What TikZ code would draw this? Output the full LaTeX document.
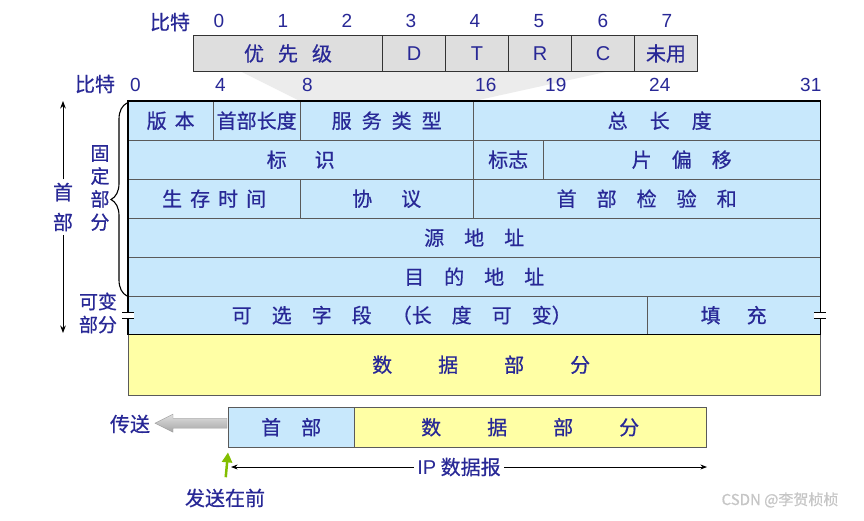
\documentclass[tikz,border=0pt]{standalone}
\usepackage{fontspec}
\setmainfont{Noto Sans CJK SC}[FakeBold=0.6]
\newfontfamily\latinfont{Liberation Sans}
\usetikzlibrary{arrows.meta, positioning, calc, decorations.pathreplacing}

\definecolor{txtblue}{RGB}{40,40,150}
\definecolor{hdrblue}{RGB}{200,232,252}
\definecolor{datayellow}{RGB}{255,255,165}
\definecolor{tosgray}{RGB}{222,222,222}
\definecolor{linegray}{RGB}{90,90,90}
\definecolor{sendgreen}{RGB}{130,190,0}
\newcommand{\fsep}[1]{\hspace{#1em}}

\begin{document}
\begin{tikzpicture}[x=1pt, y=-1pt, >=Stealth,
        every node/.style={text=txtblue, font=\fontsize{20}{23}\selectfont},
        cell/.style={draw=linegray, fill=hdrblue, inner sep=0pt, anchor=north west, minimum height=39pt},
        tosbit/.style={draw=black!80, line width=1pt, fill=tosgray, inner sep=0pt, anchor=north west, minimum height=36pt, minimum width=63pt},
        bitnum/.style={font=\latinfont\fontsize{19}{20}\selectfont, inner sep=0pt},
        stack/.style={align=center, font=\fontsize{19}{23}\selectfont}
    ]
        \fill[white] (0,0) rectangle (864,520);
        \useasboundingbox (0,0) rectangle (864,520);

        % Schatten unter dem TOS-Byte
        \fill[gray!15] (240,71) -- (610,71) -- (474,101) -- (300,101) -- cycle;

        % TOS-Byte
        \node (tbit) at (170,22) {比特};
        \foreach \b in {0,...,7}
            \node[bitnum] (tb\b) at ({219+64*\b},21) {\b};
        \node[tosbit, minimum width=189pt] (prec) at (193,35) {优\fsep{.7}先\fsep{.7}级};
        \node[tosbit, font=\latinfont\fontsize{20}{23}\selectfont] (dbit) at (382,35) {D};
        \node[tosbit, font=\latinfont\fontsize{20}{23}\selectfont] (tbit4) at (445,35) {T};
        \node[tosbit, font=\latinfont\fontsize{20}{23}\selectfont] (rbit) at (508,35) {R};
        \node[tosbit, font=\latinfont\fontsize{20}{23}\selectfont] (cbit) at (571,35) {C};
        \node[tosbit] (unused) at (634,35) {未用};

        % Bitpositionen
        \node (bbit) at (95,84) {比特};
        \foreach \b/\x in {0/128,4/213,8/300,16/473,19/543,24/647,31/798}
            \node[bitnum, anchor=west] (bb\b) at ({\x+2},85) {\b};

        % Kopf
        \node[cell, minimum width=85pt] (ver) at (128,101) {版\fsep{.4}本};
        \node[cell, minimum width=87pt] (ihl) at (213,101) {首部长度};
        \node[cell, minimum width=173pt] (tos) at (300,101) {服\fsep{.5}务\fsep{.5}类\fsep{.5}型};
        \node[cell, minimum width=347pt] (len) at (473,101) {\hspace*{26pt}总\fsep{1.1}长\fsep{1.1}度};

        \node[cell, minimum width=345pt] (ident) at (128,140) {标\fsep{1.4}识};
        \node[cell, minimum width=70pt] (flag) at (473,140) {标志};
        \node[cell, minimum width=277pt] (frag) at (543,140) {片\fsep{1}偏\fsep{1}移};

        \node[cell, minimum width=172pt] (ttl) at (128,179) {生\fsep{.4}存\fsep{.4}时\fsep{.4}间};
        \node[cell, minimum width=173pt] (proto) at (300,179) {协\fsep{1.45}议};
        \node[cell, minimum width=347pt] (csum) at (473,179) {首\fsep{1}部\fsep{1}检\fsep{1}验\fsep{1}和};

        \node[cell, minimum width=692pt] (src) at (128,218) {源\fsep{1}地\fsep{1}址};
        \node[cell, minimum width=692pt] (dst) at (128,257) {目\fsep{1}的\fsep{1}地\fsep{1}址};

        \node[cell, minimum width=519pt, minimum height=38pt] (opt) at (128,296)
            {\hspace*{28pt}可\fsep{1}选\fsep{1}字\fsep{1}段\fsep{1}（长\fsep{1}度\fsep{1}可\fsep{1}变）};
        \node[cell, minimum width=173pt, minimum height=38pt] (pad) at (647,296) {填\fsep{1.3}充};

        \node[cell, fill=datayellow, minimum width=692pt, minimum height=61pt] (data) at (128,334)
            {\hspace*{14pt}数\fsep{2.3}据\fsep{2.3}部\fsep{2.3}分};

        \draw[line width=1.8pt] (ver.north west) rectangle (pad.south east);

        % Bruchstellen
        \foreach \p in {opt.west, pad.east} {
            \fill[white] ($(\p)+(-6,-3)$) rectangle ($(\p)+(6,3)$);
            \draw[line width=1.2pt] ($(\p)+(-6,-3)$) -- ++(12,0);
            \draw[line width=1.2pt] ($(\p)+(-6,3)$) -- ++(12,0);
        }

        % linke Beschriftung
        \node[align=center, font=\fontsize{20}{30}\selectfont] (hdr) at (63,207) {首\\部};
        \coordinate (htop) at (63,101);
        \coordinate (hbot) at (63,333);
        \draw[->, line width=1pt] (hdr.north) -- (htop);
        \draw[->, line width=1pt] (hdr.south) -- (hbot);

        \draw[decorate, decoration={brace, amplitude=16pt}, line width=1.1pt] (127,296) -- (127,103);
        \node[stack] (fixed) at (100,188) {固\\定\\部\\分};
        \node[stack] (var) at (98,313) {可变\\部分};

        % IP-Datagramm unten
        \node[cell, minimum width=126pt, minimum height=40pt] (bhdr) at (228,407) {首\fsep{1}部};
        \node[cell, fill=datayellow, minimum width=352pt, minimum height=40pt] (bdata) at (354,407)
            {数\fsep{2.3}据\fsep{2.3}部\fsep{2.3}分};

        \node (send) at (130,424) {传送};
        \coordinate (arr) at ($(bhdr.west)+(-1,-4)$);
        \draw[gray!75, top color=gray!25, bottom color=gray!70]
            (arr) ++(0,-5) -- ++(-54,0) -- ++(0,-4) -- ++(-18,9) -- ++(18,9) -- ++(0,-4) -- ++(54,0) -- cycle;

        \node (first) at (225,498) {发送在前};
        \draw[-{Triangle[width=10pt, length=10pt]}, sendgreen, line width=2.5pt, shorten <=8pt]
            (first.north) -- ($(bhdr.south west)+(0,5)$);

        \node (ipd) at (459,467) {{\latinfont IP} 数据报};
        \coordinate (ipl) at (231,467);
        \coordinate (ipr) at (707,467);
        \draw[->, line width=.8pt] (ipd.west) -- (ipl);
        \draw[->, line width=.8pt] (ipd.east) -- (ipr);

        \node[text=gray!45, font=\fontsize{15}{17}\selectfont] (mark) at (780,500) {CSDN @李贺桢桢};
    \end{tikzpicture}
\end{document}
